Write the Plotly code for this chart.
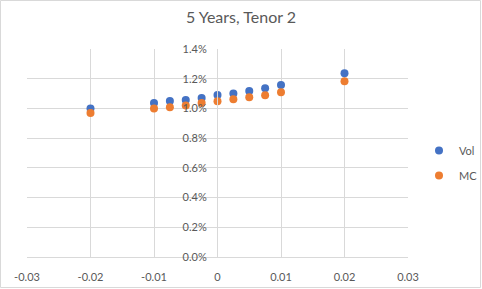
import plotly.graph_objects as go

x_vals = [-0.02, -0.01, -0.0075, -0.005, -0.0025, 0.0, 0.0025, 0.005, 0.0075, 0.01, 0.02]
vol = [0.0100, 0.01037, 0.0105, 0.01057, 0.01071, 0.01091, 0.0110, 0.01118, 0.01136, 0.01158, 0.01237]
mc = [0.0097, 0.01000, 0.01008, 0.01019, 0.01037, 0.01048, 0.01062, 0.01075, 0.01089, 0.01109, 0.01183]

x_ticks = [-0.03, -0.02, -0.01, 0, 0.01, 0.02, 0.03]
x_tick_text = ["-0.03", "-0.02", "-0.01", "0", "0.01", "0.02", "0.03"]
y_ticks = [0, 0.002, 0.004, 0.006, 0.008, 0.010, 0.012, 0.014]
y_tick_text = ["0.0%", "0.2%", "0.4%", "0.6%", "0.8%", "1.0%", "1.2%", "1.4%"]

W, H = 482, 289
font = "Lato, 'Open Sans', sans-serif"
txt = "#595959"
grid = "#d9d9d9"

fig = go.Figure()
fig.add_trace(go.Scatter(x=x_vals, y=vol, mode="markers", name="Vol", legendgroup="a",
                         marker=dict(color="#4472C4", size=8)))
fig.add_trace(go.Scatter(x=x_vals, y=mc, mode="markers", name="MC", legendgroup="b",
                         marker=dict(color="#ED7D31", size=8)))

x0d, x1d = 27 / W, 408 / W
y0d, y1d = 1 - 257 / H, 1 - 49 / H
fig.update_layout(
    width=W, height=H,
    margin=dict(l=0, r=0, t=0, b=0, autoexpand=False),
    paper_bgcolor="white", plot_bgcolor="white",
    font=dict(family=font, color=txt, size=11),
    title=dict(text="5 Years, Tenor 2", x=0.5, xanchor="center", y=1 - 17 / H,
               yanchor="middle", yref="container", font=dict(size=16, color=txt, family=font)),
    xaxis=dict(domain=[x0d, x1d], range=[-0.03, 0.03], tickvals=x_ticks, ticktext=x_tick_text,
               showgrid=True, gridcolor=grid, gridwidth=1, zeroline=False,
               showline=True, linecolor=grid, ticks="", ticklabelstandoff=10,
               tickfont=dict(size=11, color=txt), automargin=False),
    yaxis=dict(domain=[y0d, y1d], range=[0, 0.014], tickvals=y_ticks, ticktext=y_tick_text,
               showgrid=True, gridcolor=grid, gridwidth=1, zeroline=False,
               anchor="free", position=217 / W, showline=True, linecolor=grid,
               ticks="", ticklabelstandoff=8,
               tickfont=dict(size=11, color=txt), automargin=False),
    showlegend=True,
    legend=dict(x=419 / W, y=1 - 163 / H, xanchor="left", yanchor="middle",
                traceorder="grouped", tracegroupgap=6,
                font=dict(size=11, color=txt), bgcolor="rgba(0,0,0,0)", itemwidth=30),
    shapes=[dict(type="rect", xref="paper", yref="paper", x0=0.5 / W, x1=1 - 1.5 / W,
                 y0=1.5 / H, y1=1 - 0.5 / H, line=dict(color=grid, width=1))],
)

fig.write_html("out.html", config={"displayModeBar": False},
               post_script="document.body.style.margin='0';document.body.style.padding='0';")
